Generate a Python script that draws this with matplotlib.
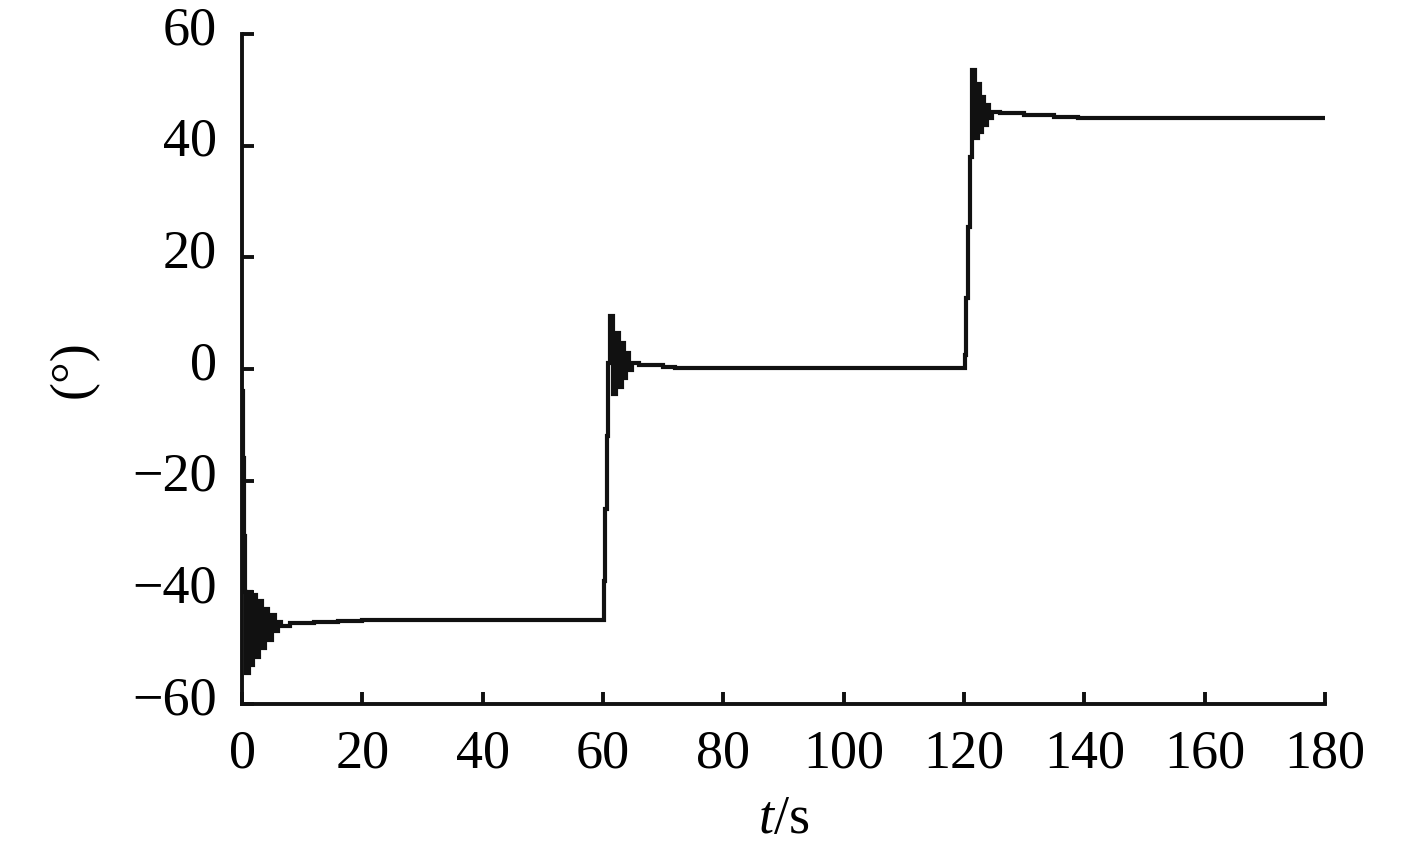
import matplotlib
matplotlib.use("Agg")
import matplotlib.pyplot as plt
import matplotlib.transforms as mtransforms

# Time (s) and angle (deg)
t_vals = [0.0, 0.2, 0.35, 0.5, 0.7, 1.1, 1.5, 1.9, 2.4, 2.9, 3.4, 3.9, 4.4, 4.9, 5.4, 5.9, 6.5,
          8.0, 12.0, 16.0, 20.0, 60.0,
          60.1, 60.3, 60.6, 60.9, 61.2, 61.7, 62.2, 62.7, 63.1, 63.5, 63.9, 64.3, 64.8,
          66.0, 70.0, 72.0, 120.0,
          120.1, 120.4, 120.7, 121.0, 121.3, 121.8, 122.3, 122.7, 123.0, 123.4, 123.8, 124.2, 124.6,
          126.0, 130.0, 135.0, 139.0, 180.0]
angle_vals = [-4.0, -16.0, -30.0, -40.0, -54.5, -40.0, -53.0, -40.5, -51.5, -41.5, -50.0, -43.0, -48.5, -44.0, -47.0, -45.3, -46.0,
              -45.5, -45.4, -45.2, -45.0, -45.0,
              -38.0, -25.0, -12.0, 1.0, 9.5, -4.5, 6.5, -3.2, 4.7, -1.6, 2.9, -0.2, 1.0,
              0.7, 0.3, 0.2, 0.2,
              2.5, 12.7, 25.4, 38.0, 53.5, 41.4, 51.0, 42.5, 48.7, 43.7, 47.3, 45.0, 46.0,
              45.8, 45.5, 45.2, 45.0, 45.0]

x_ticks = [0, 20, 40, 60, 80, 100, 120, 140, 160, 180]
y_ticks = [-60, -40, -20, 0, 20, 40, 60]

plt.rcParams['font.family'] = ['Liberation Serif', 'DejaVu Serif']
plt.rcParams['mathtext.fontset'] = 'custom'
plt.rcParams['mathtext.rm'] = 'Liberation Serif'
plt.rcParams['mathtext.it'] = 'Liberation Serif:italic'

fig = plt.figure(figsize=(14.17, 8.44), dpi=100)
ax = fig.add_axes([0.1708, 0.1659, 0.7642, 0.7938])

ax.plot(t_vals, angle_vals, color='#111111', linewidth=3.0, drawstyle='steps-post',
        solid_joinstyle='miter')

ax.set_xlim(0, 180)
ax.set_ylim(-60, 60)
ax.set_xticks(x_ticks)
ax.set_yticks(y_ticks)

for s in ['top', 'right']:
    ax.spines[s].set_visible(False)
for s in ['left', 'bottom']:
    ax.spines[s].set_linewidth(2.8)
    ax.spines[s].set_color('#111111')

ax.tick_params(axis='both', direction='in', length=8.5, width=2.8, color='#111111',
               labelsize=39)
ax.tick_params(axis='x', pad=18)
ax.tick_params(axis='y', pad=18)

# shift y tick labels slightly upward as in the reference
offset = mtransforms.ScaledTranslation(0, 9 / 100, fig.dpi_scale_trans)
for lab in ax.get_yticklabels():
    lab.set_transform(lab.get_transform() + offset)

ax.set_xlabel(r'$\mathit{t}$/s', fontsize=39, labelpad=11)
ax.set_ylabel('(°)', fontsize=39, labelpad=24)

fig.savefig('out.png', dpi=100, facecolor='white')
